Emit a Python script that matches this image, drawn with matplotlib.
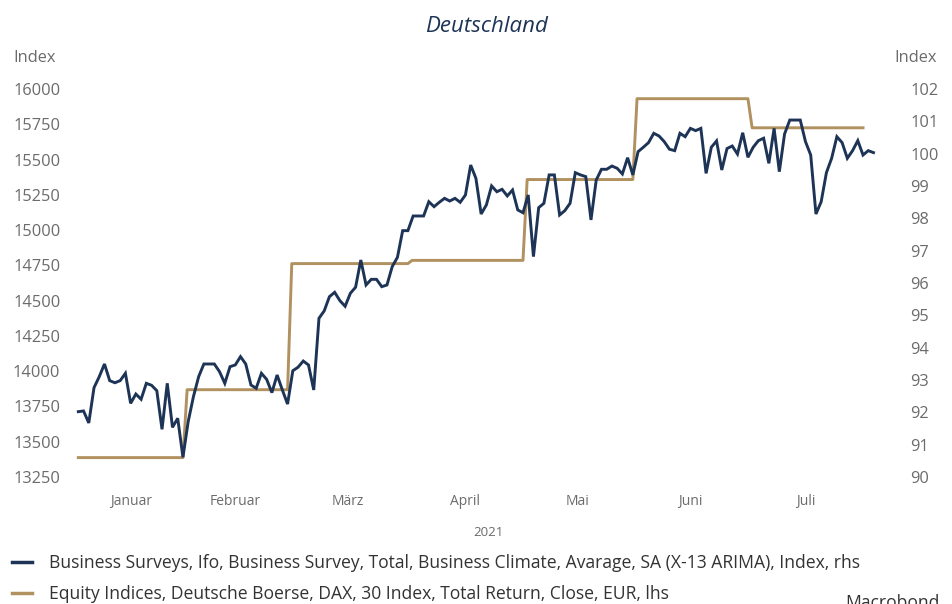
import matplotlib.pyplot as plt
import numpy as np
import pandas as pd

plt.rcParams['font.family'] = ['Open Sans', 'DejaVu Sans']

# DAX (lhs), one value per trading day starting 4 Jan 2021
dax = [13713, 13718, 13633, 13883, 13961, 14051, 13933, 13918, 13933, 13985,
       13772, 13838, 13801, 13914, 13900, 13862, 13588, 13914, 13602, 13666,
       13390, 13642, 13819, 13961, 14051, 14051, 14051, 13996, 13914, 14032,
       14044, 14103, 14051, 13902, 13879, 13985, 13942, 13848, 13973, 13867,
       13767, 14003, 14028, 14072, 14044, 13867, 14375, 14427, 14528, 14559,
       14500, 14460, 14552, 14595, 14788, 14611, 14651, 14651, 14599, 14611,
       14741, 14807, 14996, 14996, 15100, 15100, 15100, 15201, 15166, 15197,
       15225, 15206, 15225, 15197, 15249, 15461, 15367, 15114, 15178, 15313,
       15272, 15289, 15242, 15284, 15143, 15123, 15249, 14812, 15159, 15190,
       15391, 15391, 15107, 15138, 15190, 15407, 15391, 15379, 15072, 15355,
       15431, 15431, 15454, 15438, 15398, 15513, 15391, 15556, 15587, 15620,
       15686, 15667, 15627, 15573, 15563, 15686, 15662, 15721, 15705, 15721,
       15402, 15587, 15632, 15426, 15578, 15596, 15539, 15690, 15516, 15587,
       15634, 15651, 15473, 15721, 15414, 15681, 15780, 15780, 15780, 15627,
       15532, 15114, 15201, 15407, 15509, 15662, 15620, 15509, 15563, 15634,
       15532, 15563, 15549]

# Ifo business climate (rhs), monthly
ifo_months = ['2021-01', '2021-02', '2021-03', '2021-04', '2021-05', '2021-06', '2021-07']
ifo_values = [90.6, 92.7, 96.6, 96.7, 99.2, 101.7, 100.8]

month_names = ['Januar', 'Februar', 'März', 'April', 'Mai', 'Juni', 'Juli']

left_ticks = [13250, 13500, 13750, 14000, 14250, 14500, 14750, 15000, 15250, 15500, 15750, 16000]
right_ticks = list(range(90, 103))

navy = '#1d3456'
gold = '#b0915f'
grey = '#6b6b6b'

dates = pd.bdate_range('2021-01-04', periods=len(dax))
idx = np.arange(len(dates))
month_key = dates.strftime('%Y-%m')

# first trading-day index of each month (plus August as end marker)
firsts = [int(np.argmax(month_key == m)) for m in ifo_months] + [len(dates) - 3]

gx, gy = [], []
for i, v in enumerate(ifo_values):
    start = firsts[i] + (0.8 if i > 0 else 0)
    gx += [start, firsts[i + 1]]
    gy += [v, v]

centers = [(firsts[i] + firsts[i + 1]) / 2 for i in range(len(month_names))]

fig = plt.figure(figsize=(9.53, 6.04), dpi=100)
ax = fig.add_axes([70 / 953, 1 - 477 / 604, 815 / 953, 388 / 604])
ax2 = ax.twinx()

ax.plot(idx, dax, color=navy, lw=2.1, solid_joinstyle='miter')
ax2.plot(gx, gy, color=gold, lw=2.1)
ax.set_zorder(ax2.get_zorder() + 1)
ax.patch.set_visible(False)

ax.set_xlim(-1.59, 154.2)
ax.set_ylim(13250, 16000)
ax2.set_ylim(90, 102)
ax.set_yticks(left_ticks)
ax2.set_yticks(right_ticks)
ax.set_xticks(centers)
ax.set_xticklabels(month_names)

for a in (ax, ax2):
    for s in a.spines.values():
        s.set_visible(False)
ax.tick_params(axis='y', length=0, pad=7, labelsize=11.8, labelcolor=grey)
ax2.tick_params(axis='y', length=0, pad=18, labelsize=11.8, labelcolor=grey)
for t in ax2.get_yticklabels():
    t.set_horizontalalignment('left')
ax.tick_params(axis='x', length=0, pad=12, labelsize=10, labelcolor=grey)

fig.text(13 / 953, 1 - 58 / 604, 'Index', fontsize=11.8, color=grey, va='center', ha='left')
fig.text(937 / 953, 1 - 58 / 604, 'Index', fontsize=11.8, color=grey, va='center', ha='right')
fig.text(487 / 953, 1 - 26 / 604, 'Deutschland', fontsize=16, color=navy, style='italic',
         ha='center', va='center')
fig.text(488 / 953, 1 - 533 / 604, '2021', fontsize=9.5, color=grey, ha='center', va='center')

h1 = plt.Line2D([], [], color=navy, lw=2.5)
h2 = plt.Line2D([], [], color=gold, lw=2.5)
fig.legend([h1, h2],
           ['Business Surveys, Ifo, Business Survey, Total, Business Climate, Avarage, SA (X-13 ARIMA), Index, rhs',
            'Equity Indices, Deutsche Boerse, DAX, 30 Index, Total Return, Close, EUR, lhs'],
           loc='upper left', bbox_to_anchor=(12 / 953, 1 - 554 / 604), frameon=False,
           fontsize=12.65, handlelength=1.15, handletextpad=0.97, labelspacing=0.75,
           borderpad=0, borderaxespad=0, labelcolor='#333333')
fig.text(845 / 953, 1 - 594 / 604, 'Macrobond', fontsize=12.65, color='#333333', ha='left', va='top')

fig.savefig('out.png', dpi=100)
